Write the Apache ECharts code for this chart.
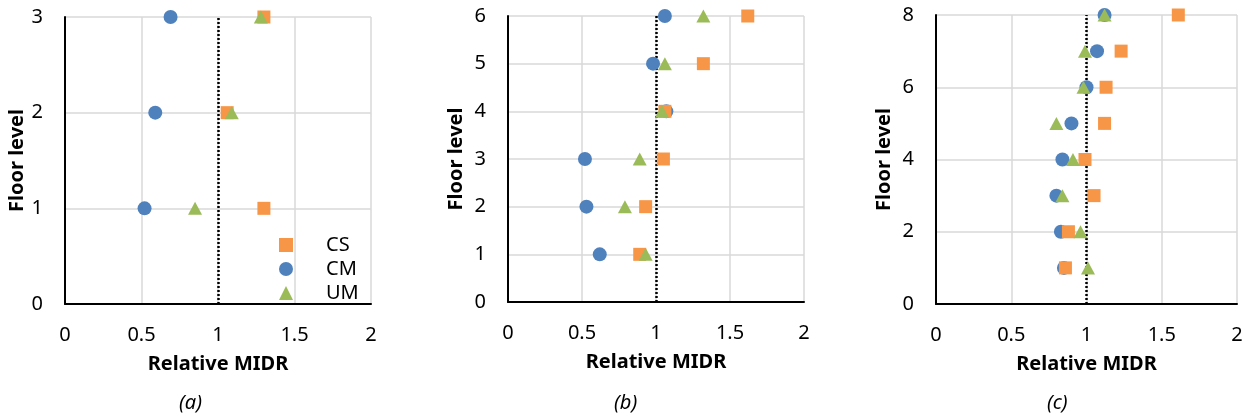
<!DOCTYPE html>
<html>
<head>
<meta charset="utf-8">
<script src="https://cdn.jsdelivr.net/npm/echarts@6/dist/echarts.min.js"></script>
<style>
html,body{margin:0;padding:0;background:#fff;}
#chart{width:1250px;height:420px;}
</style>
</head>
<body>
<div id="chart"></div>
<script>
// ---- data ----
const floorsA = [1, 2, 3];
const CS_a = [1.30, 1.06, 1.30];
const CM_a = [0.52, 0.59, 0.69];
const UM_a = [0.85, 1.09, 1.28];

const floorsB = [1, 2, 3, 4, 5, 6];
const CS_b = [0.89, 0.93, 1.05, 1.06, 1.32, 1.62];
const CM_b = [0.62, 0.53, 0.52, 1.07, 0.98, 1.06];
const UM_b = [0.93, 0.79, 0.89, 1.04, 1.06, 1.32];

const floorsC = [1, 2, 3, 4, 5, 6, 7, 8];
const CS_c = [0.86, 0.88, 1.05, 0.99, 1.12, 1.13, 1.23, 1.61];
const CM_c = [0.85, 0.83, 0.80, 0.84, 0.90, 1.00, 1.07, 1.12];
const UM_c = [1.01, 0.96, 0.84, 0.91, 0.80, 0.98, 0.99, 1.12];

const seriesNames = ['CS', 'CM', 'UM'];
const xTicks = [0, 0.5, 1, 1.5, 2];
const captions = ['(a)', '(b)', '(c)'];
const xTitle = 'Relative MIDR';
const yTitle = 'Floor level';
const refValue = 1;

// ---- style ----
const FONT = 'Noto Sans';
const colors = { CS: '#F79646', CM: '#4F81BD', UM: '#9BBB59' };
const symbols = { CS: 'rect', CM: 'circle', UM: 'triangle' };
const sizes = { CS: 13, CM: 14, UM: [14, 13] };

const panels = [
  { floors: floorsA, CS: CS_a, CM: CM_a, UM: UM_a, ymax: 3, yint: 1,
    grid: { left: 65, width: 306, top: 17, height: 287 }, capX: 192 },
  { floors: floorsB, CS: CS_b, CM: CM_b, UM: UM_b, ymax: 6, yint: 1,
    grid: { left: 508, width: 296, top: 16, height: 286 }, capX: 627 },
  { floors: floorsC, CS: CS_c, CM: CM_c, UM: UM_c, ymax: 8, yint: 2,
    grid: { left: 936, width: 301, top: 15, height: 289 }, capX: 1060 }
];

const grids = [], xAxes = [], yAxes = [], series = [], graphics = [];
panels.forEach((p, i) => {
  grids.push(Object.assign({ containLabel: false }, p.grid));
  xAxes.push({
    type: 'value', gridIndex: i, min: xTicks[0], max: xTicks[xTicks.length - 1], interval: 0.5,
    name: xTitle, nameLocation: 'middle', nameGap: 50,
    nameTextStyle: { fontFamily: FONT, fontSize: 20, fontWeight: 'bold', color: '#000' },
    axisLine: { show: true, lineStyle: { color: '#000', width: 2 } },
    axisTick: { show: false },
    axisLabel: { fontFamily: FONT, fontSize: 20, color: '#000', margin: 21 },
    splitLine: { show: true, lineStyle: { color: '#d9d9d9', width: 1.5 } }
  });
  yAxes.push({
    type: 'value', gridIndex: i, min: 0, max: p.ymax, interval: p.yint,
    name: yTitle, nameLocation: 'middle', nameRotate: 90, nameGap: i === 0 ? 36 : 42,
    nameTextStyle: { fontFamily: FONT, fontSize: 20, fontWeight: 'bold', color: '#000' },
    axisLine: { show: true, lineStyle: { color: '#000', width: 2 } },
    axisTick: { show: false },
    axisLabel: { fontFamily: FONT, fontSize: 20, color: '#000', margin: 22 },
    splitLine: { show: true, lineStyle: { color: '#d9d9d9', width: 1.5 } }
  });
  ['CM', 'CS', 'UM'].forEach((name, k) => {
    const s = {
      type: 'scatter', name: name, xAxisIndex: i, yAxisIndex: i,
      symbol: symbols[name], symbolSize: sizes[name],
      itemStyle: { color: colors[name], opacity: 1 },
      data: p[name].map((v, j) => [v, p.floors[j]]),
      z: 3 + k
    };
    if (k === 0) {
      s.markLine = {
        silent: true, symbol: 'none', label: { show: false },
        lineStyle: { color: '#000', type: [2, 2], width: 2.5 },
        data: [{ xAxis: refValue }],
        z: 2
      };
    }
    series.push(s);
  });
  graphics.push({
    type: 'text', left: p.capX - 13, top: 393,
    style: { text: captions[i], font: 'italic 20px "Noto Sans"', fill: '#000' }
  });
});

const legendRows = [242, 266, 290];
const legends = seriesNames.map((n, k) => ({
  data: [n], orient: 'vertical', left: 279, top: legendRows[k] - 12,
  itemWidth: 14, itemHeight: 14, itemGap: 0, padding: [5, 5, 5, 0],
  textStyle: { fontFamily: FONT, fontSize: 20, color: '#000', padding: [0, 0, 0, 28] }
}));

const chart = echarts.init(document.getElementById('chart'));
chart.setOption({
  animation: false,
  backgroundColor: '#fff',
  grid: grids, xAxis: xAxes, yAxis: yAxes, series: series,
  legend: legends,
  graphic: graphics
});
</script>
</body>
</html>
